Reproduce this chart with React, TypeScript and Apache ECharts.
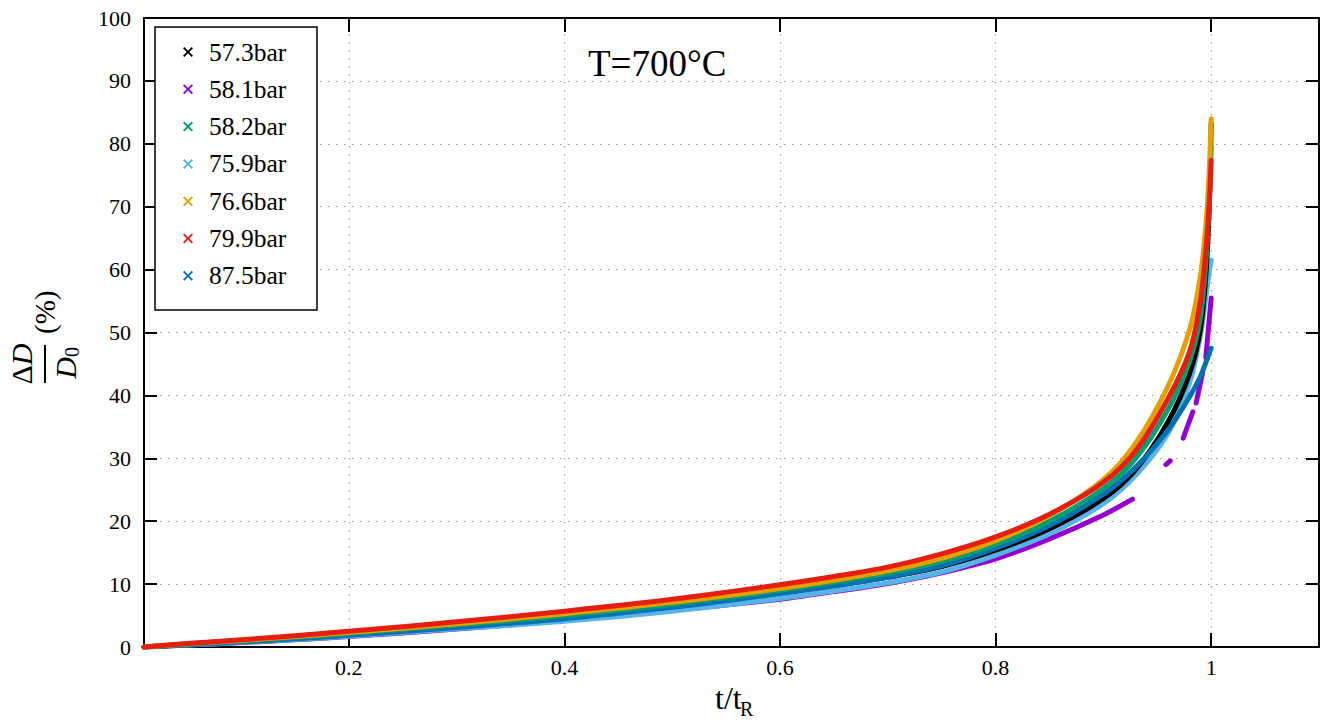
import React, { useEffect, useRef } from "react";
import * as echarts from "echarts";

const FONT = "Liberation Serif";

// relative time t/tR sampled along the curves
const tGrid = [0.01, 0.05, 0.1, 0.15, 0.2, 0.3, 0.4, 0.5, 0.6, 0.65, 0.7, 0.75, 0.8, 0.85, 0.9, 0.93, 0.96, 0.98, 0.99, 0.995, 0.998, 1.0];

// ΔD/D0 (%) for each pressure
const d573 = [0, 0.4, 0.9, 1.45, 2.0, 3.3, 4.7, 6.5, 8.6, 9.8, 11.1, 12.8, 15.4, 18.8, 23.6, 28.2, 35.8, 43.5, 50.5, 59, 69, 83.3];
const d582 = [0, 0.45, 1.0, 1.55, 2.15, 3.5, 5.0, 6.8, 9.0, 10.3, 11.7, 13.6, 16.3, 20.0, 25.2, 30.0, 37.8, 45.5, 52.5, 61, 70, 79.5];
const d759 = [0, 0.3, 0.7, 1.2, 1.7, 2.9, 4.1, 5.7, 7.7, 8.9, 10.2, 11.9, 14.6, 18.0, 22.8, 27.3, 34.0, 42, 49.5, 55.5, 59.5, 61.5];
const d766 = [0, 0.5, 1.05, 1.65, 2.3, 3.7, 5.3, 7.1, 9.3, 10.6, 12.1, 14.1, 16.9, 20.9, 26.6, 32.4, 41.5, 50.5, 59, 67, 75, 84];
const d799 = [0, 0.55, 1.15, 1.8, 2.5, 4.0, 5.7, 7.6, 9.9, 11.2, 12.7, 14.8, 17.5, 21.1, 26.2, 31.2, 39.5, 47, 55, 63, 70, 77.4];
const d875 = [0, 0.35, 0.8, 1.3, 1.85, 3.1, 4.5, 6.3, 8.5, 9.7, 11.1, 12.9, 15.7, 19.3, 24.3, 28.6, 34.5, 39.8, 43.0, 45.2, 46.6, 47.5];

// 58.1 bar has gaps near rupture
const t581 = [0.01, 0.05, 0.1, 0.15, 0.2, 0.3, 0.4, 0.5, 0.6, 0.65, 0.7, 0.75, 0.8, 0.85, 0.9, 0.927, 0.94, 0.958, 0.962, 0.968, 0.974, 0.983, 0.9845, 0.986, 0.992, 0.9935, 0.995, 1.0];
const d581 = [0, 0.3, 0.7, 1.15, 1.65, 2.85, 4.2, 5.8, 7.6, 8.8, 10.1, 11.8, 14.0, 17.2, 21.0, 23.5, null, 29.0, 29.6, null, 33.2, 37.4, null, 38.8, 43.6, null, 46, 55.5];

const legendNames = ["57.3bar", "58.1bar", "58.2bar", "75.9bar", "76.6bar", "79.9bar", "87.5bar"];
const titleText = "T=700°C";

const COLORS: Record<string, string> = {
  "57.3bar": "#000000",
  "58.1bar": "#9400d3",
  "58.2bar": "#009e73",
  "75.9bar": "#56b4e9",
  "76.6bar": "#e69f00",
  "79.9bar": "#e51e10",
  "87.5bar": "#0072b2",
};

const pair = (ts: number[], vs: (number | null)[]) => ts.map((t, i) => [t, vs[i] === null ? "-" : vs[i]]);

const X_ICON = "path://M0,1.3 L1.3,0 L5,3.7 L8.7,0 L10,1.3 L6.3,5 L10,8.7 L8.7,10 L5,6.3 L1.3,10 L0,8.7 L3.7,5 Z";

export default function App() {
  const ref = useRef<HTMLDivElement>(null);
  useEffect(() => {
    if (!ref.current) return;
    const chart = echarts.init(ref.current, undefined, { renderer: "svg" });
    const mk = (name: string, data: any[]) => ({
      name,
      type: "line",
      data,
      showSymbol: false,
      symbol: "none",
      smooth: 0.3,
      connectNulls: false,
      lineStyle: { color: COLORS[name], width: 5, cap: "round", join: "round" },
      itemStyle: { color: COLORS[name] },
    });
    const axisLine = { show: true, onZero: false, lineStyle: { color: "#000", width: 2 } };
    const split = { show: true, lineStyle: { color: "#9a9a9a", width: 1.2, type: [1.5, 6.5] } };
    const lbl = { color: "#000", fontFamily: FONT, fontSize: 22 };
    const legendText = { fontFamily: FONT, fontSize: 25.5, color: "#000", lineHeight: 25 };
    chart.setOption({
      animation: false,
      backgroundColor: "#fff",
      title: {
        text: titleText,
        left: 588,
        top: 45,
        padding: 0,
        textStyle: { fontFamily: FONT, fontSize: 37, fontWeight: "normal", color: "#000" },
      },
      grid: { left: 144, right: 8, top: 18, bottom: 74 },
      legend: {
        data: legendNames.map((n) => ({ name: n, icon: X_ICON, itemStyle: { color: COLORS[n] }, textStyle: legendText })),
        orient: "vertical",
        left: 183,
        top: 39,
        padding: 0,
        itemWidth: 32,
        itemHeight: 10,
        itemGap: 11.3,
        symbolKeepAspect: true,
        textStyle: legendText,
        z: 5,
      },
      xAxis: [
        {
          type: "value",
          min: 0.01,
          max: 1.1,
          position: "bottom",
          axisLine,
          axisTick: { show: true, inside: true, length: 14, lineStyle: { color: "#000", width: 2 } },
          axisLabel: { ...lbl, margin: 9, showMinLabel: false, showMaxLabel: false },
          splitLine: split,
        },
        {
          type: "value",
          min: 0.01,
          max: 1.1,
          position: "top",
          axisLine,
          axisTick: { show: true, inside: true, length: 14, lineStyle: { color: "#000", width: 2 } },
          axisLabel: { show: false },
          splitLine: { show: false },
        },
      ],
      yAxis: [
        {
          type: "value",
          min: 0,
          max: 100,
          interval: 10,
          position: "left",
          axisLine,
          axisTick: { show: true, inside: true, length: 13, lineStyle: { color: "#000", width: 2 } },
          axisLabel: { ...lbl, margin: 13 },
          splitLine: split,
        },
        {
          type: "value",
          min: 0,
          max: 100,
          interval: 10,
          position: "right",
          axisLine,
          axisTick: { show: true, inside: true, length: 13, lineStyle: { color: "#000", width: 2 } },
          axisLabel: { show: false },
          splitLine: { show: false },
        },
      ],
      series: [
        mk("58.1bar", pair(t581, d581)),
        mk("75.9bar", pair(tGrid, d759)),
        mk("57.3bar", pair(tGrid, d573)),
        mk("87.5bar", pair(tGrid, d875)),
        mk("58.2bar", pair(tGrid, d582)),
        mk("76.6bar", pair(tGrid, d766)),
        mk("79.9bar", pair(tGrid, d799)),
      ],
      graphic: [
        {
          type: "rect",
          z: 3,
          shape: { x: 155, y: 27, width: 162, height: 283 },
          style: { fill: "#fff", stroke: "#000", lineWidth: 1.5 },
        },
        {
          type: "group",
          x: 45,
          y: 364,
          rotation: Math.PI / 2,
          children: [
            { type: "line", shape: { x1: -19, y1: 0, x2: 19, y2: 0 }, style: { stroke: "#000", lineWidth: 2 } },
            {
              type: "text",
              x: 0,
              y: -9,
              style: {
                text: "{d|Δ}{i|D}",
                align: "center",
                verticalAlign: "bottom",
                rich: {
                  d: { fontFamily: FONT, fontSize: 30, fill: "#000" },
                  i: { fontFamily: FONT, fontSize: 30, fontStyle: "italic", fill: "#000" },
                },
              },
            },
            {
              type: "text",
              x: -4,
              y: 5,
              style: { text: "D", fontFamily: FONT, fontSize: 30, fontStyle: "italic", fill: "#000", align: "center", verticalAlign: "top" },
            },
            {
              type: "text",
              x: 12,
              y: 17,
              style: { text: "0", fontFamily: FONT, fontSize: 20, fill: "#000", align: "center", verticalAlign: "top" },
            },
            {
              type: "text",
              x: 30,
              y: 0,
              style: { text: "(%)", fontFamily: FONT, fontSize: 29, fill: "#000", align: "left", verticalAlign: "middle" },
            },
          ],
        },
        {
          type: "text",
          x: 715,
          y: 714,
          style: { text: "t/t", fontFamily: FONT, fontSize: 32, fill: "#000", align: "left", verticalAlign: "bottom" },
        },
        {
          type: "text",
          x: 740,
          y: 719,
          style: { text: "R", fontFamily: FONT, fontSize: 20, fill: "#000", align: "left", verticalAlign: "bottom" },
        },
      ],
    });
    return () => chart.dispose();
  }, []);
  return <div ref={ref} style={{ position: "fixed", left: 0, top: 0, width: 1327, height: 721 }} />;
}
